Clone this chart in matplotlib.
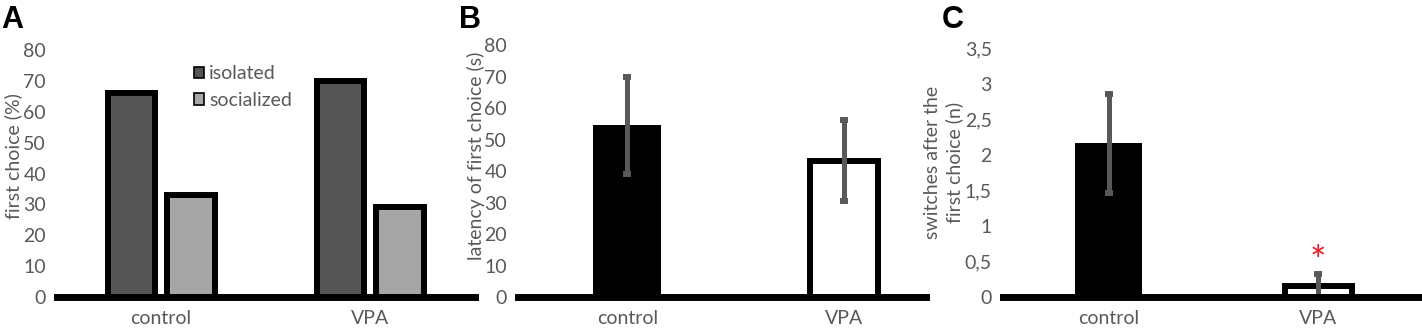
import matplotlib.pyplot as plt

groups = ["control", "VPA"]

# panel A: first choice (%)
isolated = [66, 70]
socialized = [33, 29]

# panel B: latency of first choice (s)
latency = [54.5, 43.3]
latency_err = [15.3, 12.8]

# panel C: switches after the first choice (n)
switches = [2.16, 0.16]
switches_err = [0.70, 0.17]

TEXT = "#595959"
FS = 14
plt.rcParams["font.family"] = ["Lato", "DejaVu Sans"]
plt.rcParams["font.size"] = FS

fig = plt.figure(figsize=(14.22, 3.32), dpi=100)
ax_a = fig.add_axes([0.0401, 0.1054, 0.2940, 0.7440])
ax_b = fig.add_axes([0.3643, 0.1054, 0.2869, 0.7590])
ax_c = fig.add_axes([0.7053, 0.1054, 0.2947, 0.7500])


def style(ax):
    for side in ("top", "right", "left"):
        ax.spines[side].set_visible(False)
    ax.spines["bottom"].set_linewidth(5)
    ax.spines["bottom"].set_zorder(5)
    ax.tick_params(length=0, colors=TEXT, labelsize=FS)
    ax.tick_params(axis="y", pad=8)
    ax.tick_params(axis="x", pad=9)
    ax.set_xticks(range(len(groups)))
    ax.set_xticklabels(groups)


x = list(range(len(groups)))

# A
ax_a.bar([i - 0.142 for i in x], isolated, 0.227, color="#555555",
         edgecolor="black", linewidth=4.3, label="isolated")
ax_a.bar([i + 0.142 for i in x], socialized, 0.227, color="#a6a6a6",
         edgecolor="black", linewidth=4.3, label="socialized")
style(ax_a)
ax_a.set_xlim(-0.498, 1.502)
ax_a.set_ylim(0, 80)
ax_a.set_yticks(range(0, 81, 10))
ax_a.set_ylabel("first choice (%)", color=TEXT, fontsize=FS)
ax_a.yaxis.set_label_coords(-0.084, 0.57)
leg = ax_a.legend(loc="upper left", bbox_to_anchor=(0.31, 0.97), frameon=False,
                  handlelength=0.5, handleheight=0.5, handletextpad=0.25,
                  labelspacing=0.5, fontsize=FS, borderaxespad=0)
for t in leg.get_texts():
    t.set_color(TEXT)
for h in leg.legend_handles:
    h.set_linewidth(1.2)

# B
ax_b.bar(x, latency, 0.315, color=["black", "white"], edgecolor="black",
         linewidth=[0, 4.3])
ax_b.errorbar(x, latency, yerr=latency_err, fmt="none", ecolor=TEXT,
              elinewidth=3.6, capsize=2.9, capthick=4.3, zorder=4)
style(ax_b)
ax_b.set_xlim(-0.505, 1.38)
ax_b.set_ylim(0, 80)
ax_b.set_yticks(range(0, 81, 10))
ax_b.set_ylabel("latency of first choice (s)", color=TEXT, fontsize=FS)
ax_b.yaxis.set_label_coords(-0.081, 0.56)

# C
ax_c.bar(x, switches, 0.32, color=["black", "white"], edgecolor="black",
         linewidth=[0, 4.3])
ax_c.errorbar(x, switches, yerr=switches_err, fmt="none", ecolor=TEXT,
              elinewidth=3.6, capsize=2.9, capthick=4.3, zorder=4)
style(ax_c)
ax_c.set_xlim(-0.504, 1.496)
ax_c.set_ylim(0, 3.5)
ax_c.set_yticks([0, 0.5, 1, 1.5, 2, 2.5, 3, 3.5])
ax_c.set_yticklabels(["0", "0,5", "1", "1,5", "2", "2,5", "3", "3,5"])
ax_c.set_ylabel("switches after the\nfirst choice (n)", color=TEXT, fontsize=FS,
                linespacing=1.25)
ax_c.yaxis.set_label_coords(-0.095, 0.54)
ax_c.text(x[1], switches[1] + switches_err[1] + 0.15, "*", color="#e0202a",
          ha="center", va="center", fontsize=28)

for label, xpos in (("A", 0.001), ("B", 0.323), ("C", 0.662)):
    fig.text(xpos, 0.985, label, fontsize=22, fontweight="bold",
             family="Liberation Sans", va="top", ha="left")

fig.savefig("out.png", dpi=100)
